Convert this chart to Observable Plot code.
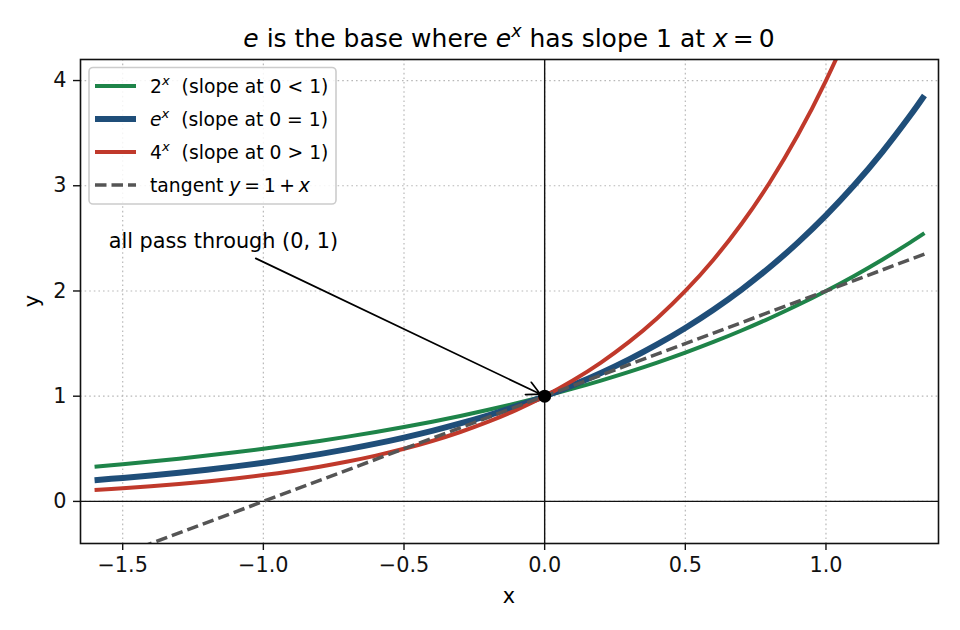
<!DOCTYPE html>
<html>
<head>
<meta charset="utf-8">
<script src="https://cdn.jsdelivr.net/npm/d3@7"></script>
<script src="https://cdn.jsdelivr.net/npm/@observablehq/plot@0.6"></script>
<style>
  body { margin: 0; background: white; }
  svg text { white-space: pre; }
</style>
</head>
<body>
<div id="chart"></div>
<script>
// ---- data ----
const xs = [-1.6, -1.5, -1.4, -1.3, -1.2, -1.1, -1.0, -0.9, -0.8, -0.7, -0.6, -0.5, -0.4, -0.3, -0.2, -0.1,
            0, 0.1, 0.2, 0.3, 0.4, 0.5, 0.6, 0.7, 0.8, 0.9, 1.0, 1.1, 1.2, 1.3, 1.35];
const pow2 = [0.3299, 0.3536, 0.3789, 0.4061, 0.4353, 0.4665, 0.5, 0.5359, 0.5743, 0.6156, 0.6598, 0.7071, 0.7579, 0.8123, 0.8706, 0.9330,
              1, 1.0718, 1.1487, 1.2311, 1.3195, 1.4142, 1.5157, 1.6245, 1.7411, 1.8661, 2.0, 2.1435, 2.2974, 2.4623, 2.5491];
const powE = [0.2019, 0.2231, 0.2466, 0.2725, 0.3012, 0.3329, 0.3679, 0.4066, 0.4493, 0.4966, 0.5488, 0.6065, 0.6703, 0.7408, 0.8187, 0.9048,
              1, 1.1052, 1.2214, 1.3499, 1.4918, 1.6487, 1.8221, 2.0138, 2.2255, 2.4596, 2.7183, 3.0042, 3.3201, 3.6693, 3.8574];
const pow4 = [0.1088, 0.125, 0.1436, 0.1649, 0.1895, 0.2176, 0.25, 0.2872, 0.3299, 0.3789, 0.4353, 0.5, 0.5743, 0.6598, 0.7579, 0.8706,
              1, 1.1487, 1.3195, 1.5157, 1.7411, 2.0, 2.2974, 2.6390, 3.0314, 3.4822, 4.0, 4.5948, 5.2780, 6.0629, 6.4980];
const tangentX = [-1.6, 1.35];
const tangentY = [-0.6, 2.35];
const point = [{x: 0, y: 1}];
const annotationText = "all pass through (0, 1)";
const annotationAt = {x: -1.55, y: 2.47};
const arrowFrom = {x: -1.027, y: 2.31};

const xTicks = [-1.5, -1.0, -0.5, 0.0, 0.5, 1.0];
const yTicks = [0, 1, 2, 3, 4];

const colors = {two: "#1e8449", e: "#1f4e79", four: "#c0392b", tan: "#555555"};
const widths = {two: 4, e: 6, four: 4, tan: 3.5};

const rows = (xv, yv) => xv.map((x, i) => ({x, y: yv[i]}));

const FONT = "DejaVu Sans, Liberation Sans, sans-serif";
const TS = "\u2009"; // thin space (mathtext operator spacing)

const svg = Plot.plot({
  width: 960,
  height: 630,
  marginLeft: 80,
  marginRight: 22,
  marginTop: 59,
  marginBottom: 87,
  style: {fontFamily: FONT, fontSize: "20.8px", background: "white", color: "#111"},
  x: {domain: [-1.65, 1.4]},
  y: {domain: [-0.4, 4.2]},
  marks: [
    Plot.gridX(xTicks, {stroke: "#b8b8b8", strokeOpacity: 1, strokeWidth: 1.2, strokeDasharray: "1.6,3"}),
    Plot.gridY(yTicks, {stroke: "#b8b8b8", strokeOpacity: 1, strokeWidth: 1.2, strokeDasharray: "1.6,3"}),
    Plot.ruleX([0], {stroke: "#111", strokeWidth: 1.4}),
    Plot.ruleY([0], {stroke: "#111", strokeWidth: 1.4}),
    Plot.line(rows(xs, pow2), {x: "x", y: "y", stroke: colors.two, strokeWidth: widths.two, curve: "catmull-rom", clip: true, strokeLinecap: "butt"}),
    Plot.line(rows(xs, powE), {x: "x", y: "y", stroke: colors.e, strokeWidth: widths.e, curve: "catmull-rom", clip: true, strokeLinecap: "butt"}),
    Plot.line(rows(xs, pow4), {x: "x", y: "y", stroke: colors.four, strokeWidth: widths.four, curve: "catmull-rom", clip: true, strokeLinecap: "butt"}),
    Plot.line(rows(tangentX, tangentY), {x: "x", y: "y", stroke: colors.tan, strokeWidth: widths.tan, strokeDasharray: "11.5,5", strokeLinecap: "butt", clip: true}),
    Plot.arrow([{x1: arrowFrom.x, y1: arrowFrom.y, x2: point[0].x, y2: point[0].y}], {
      x1: "x1", y1: "y1", x2: "x2", y2: "y2", stroke: "black", strokeWidth: 1.7, headLength: 13, headAngle: 55, insetEnd: 5
    }),
    Plot.dot(point, {x: "x", y: "y", r: 6.5, fill: "black", stroke: "none"}),
    Plot.text([annotationAt], {x: "x", y: "y", text: () => annotationText, textAnchor: "start", lineAnchor: "middle", fontSize: 20.8, fill: "black"}),
    Plot.axisX(xTicks, {tickFormat: d3.format(".1f"), tickSize: 7, tickPadding: 7, fontSize: 20.8, label: null, stroke: "#111", fill: "#111", strokeWidth: 1.4}),
    Plot.axisY(yTicks, {tickFormat: d3.format("d"), tickSize: 7, tickPadding: 7, fontSize: 20.8, label: null, stroke: "#111", fill: "#111", strokeWidth: 1.4}),
    Plot.frame({stroke: "#111", strokeWidth: 1.6})
  ]
});

document.getElementById("chart").appendChild(svg);

// ---- rich text helper ----
function rich(parent, x, y, segs, size, anchor) {
  const t = parent.append("text")
    .attr("x", x).attr("y", y)
    .attr("font-size", size)
    .attr("font-family", FONT)
    .attr("text-anchor", anchor)
    .attr("fill", "black")
    .attr("xml:space", "preserve");
  let raised = false;
  for (const s of segs) {
    const sp = t.append("tspan").text(s.t);
    if (s.i) sp.attr("font-style", "italic");
    if (s.sup) {
      sp.attr("font-size", size * 0.7).attr("dy", -size * 0.42);
      raised = true;
    } else if (raised) {
      sp.attr("dy", size * 0.42);
      raised = false;
    }
  }
  return t;
}

const root = d3.select(svg);

// title
rich(root, 509, 47, [
  {t: "e", i: 1}, {t: " is the base where "}, {t: "e", i: 1}, {t: "x", i: 1, sup: 1},
  {t: " has slope 1 at "}, {t: "x", i: 1}, {t: TS + "=" + TS + "0"}
], 25, "middle");

// axis labels
root.append("text").attr("x", 509).attr("y", 603).attr("text-anchor", "middle")
  .attr("font-family", FONT).attr("font-size", 20.8).attr("fill", "black").text("x");
root.append("text").attr("transform", "translate(38.5,301) rotate(-90)").attr("text-anchor", "middle")
  .attr("font-family", FONT).attr("font-size", 20.8).attr("fill", "black").text("y");

// legend
const legendEntries = [
  {segs: [{t: "2"}, {t: "x", i: 1, sup: 1}, {t: "  (slope at 0 < 1)"}], color: colors.two, width: widths.two, dash: null},
  {segs: [{t: "e", i: 1}, {t: "x", i: 1, sup: 1}, {t: "  (slope at 0 = 1)"}], color: colors.e, width: widths.e, dash: null},
  {segs: [{t: "4"}, {t: "x", i: 1, sup: 1}, {t: "  (slope at 0 > 1)"}], color: colors.four, width: widths.four, dash: null},
  {segs: [{t: "tangent "}, {t: "y", i: 1}, {t: TS + "=" + TS + "1" + TS + "+" + TS}, {t: "x", i: 1}], color: colors.tan, width: widths.tan, dash: "11.5,5"}
];
const lg = root.append("g");
lg.append("rect").attr("x", 89).attr("y", 67.5).attr("width", 247).attr("height", 136.5)
  .attr("rx", 4).attr("fill", "white").attr("fill-opacity", 0.85)
  .attr("stroke", "#cccccc").attr("stroke-width", 1.6);
const rowY = [86, 119, 152, 185];
legendEntries.forEach((e, i) => {
  lg.append("line").attr("x1", 95).attr("x2", 136).attr("y1", rowY[i]).attr("y2", rowY[i])
    .attr("stroke", e.color).attr("stroke-width", e.width)
    .attr("stroke-dasharray", e.dash).attr("stroke-linecap", "butt");
  rich(lg, 150, rowY[i] + 6.5, e.segs, 18.75, "start");
});
</script>
</body>
</html>
